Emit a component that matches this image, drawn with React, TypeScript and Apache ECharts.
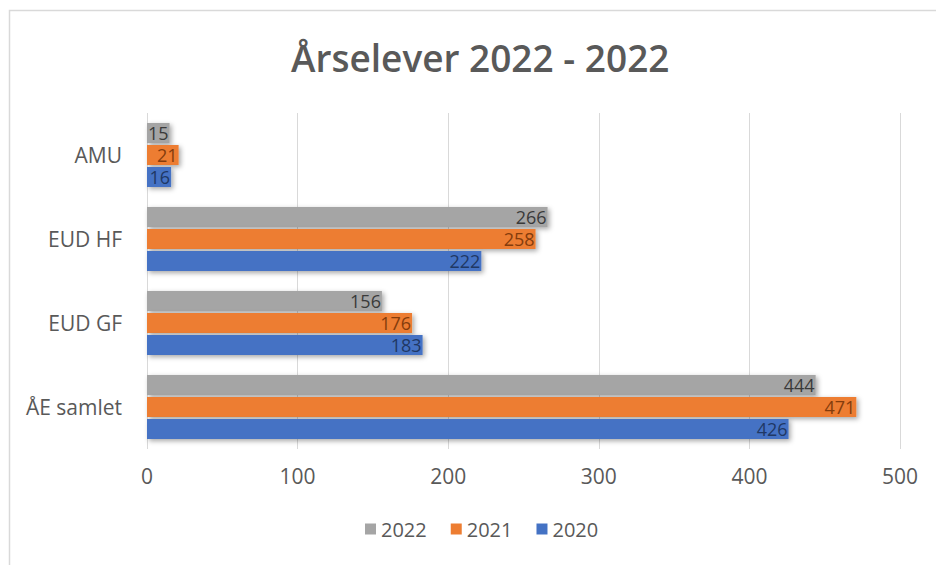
import React, { useEffect, useRef } from "react";
import * as echarts from "echarts";

const categories = ["ÅE samlet", "EUD GF", "EUD HF", "AMU"];
const values2022 = [444, 156, 266, 15];
const values2021 = [471, 176, 258, 21];
const values2020 = [426, 183, 222, 16];
const xTicks = [0, 100, 200, 300, 400, 500];

const FONT = "'Open Sans', 'Noto Sans', sans-serif";

export default function App() {
  const ref = useRef<HTMLDivElement>(null);
  useEffect(() => {
    if (!ref.current) return;
    const chart = echarts.init(ref.current, undefined, { renderer: "svg" });
    const mk = (name: string, data: number[], color: string, labelColor: string) => ({
      name,
      type: "bar",
      data,
      barWidth: 20,
      barGap: "10%",
      itemStyle: {
        color,
        shadowBlur: 5,
        shadowColor: "rgba(0,0,0,0.35)",
        shadowOffsetX: 2,
        shadowOffsetY: 2,
      },
      label: {
        show: true,
        position: "insideRight",
        distance: 1,
        color: labelColor,
        fontSize: 18,
        lineHeight: 18,
        fontFamily: FONT,
      },
    });
    chart.setOption({
      animation: false,
      backgroundColor: "#ffffff",
      title: {
        text: "Årselever 2022 - 2022",
        left: 286,
        top: 34,
        textStyle: { fontSize: 37, fontWeight: 600, color: "#595959", fontFamily: FONT },
      },
      graphic: [
        {
          type: "rect",
          shape: { x: 9.5, y: 10.5, width: 1000, height: 1000 },
          style: { fill: "none", stroke: "#d9d9d9", lineWidth: 1.5 },
          silent: true,
        },
      ],
      legend: {
        data: ["2022", "2021", "2020"],
        bottom: 21,
        left: 360,
        itemWidth: 11,
        itemHeight: 11,
        itemGap: 24,
        icon: "rect",
        textStyle: { fontSize: 20, color: "#595959", fontFamily: FONT },
      },
      grid: { left: 147, right: 36, top: 113, bottom: 116 },
      xAxis: {
        type: "value",
        min: xTicks[0],
        max: xTicks[xTicks.length - 1],
        interval: 100,
        axisLine: { show: false },
        axisTick: { show: false },
        splitLine: { lineStyle: { color: "#d9d9d9", width: 1 } },
        axisLabel: { fontSize: 21, color: "#595959", fontFamily: FONT, margin: 16 },
      },
      yAxis: {
        type: "category",
        data: categories,
        axisLine: { show: false },
        axisTick: { show: false },
        axisLabel: { fontSize: 21, color: "#595959", fontFamily: FONT, margin: 25 },
      },
      series: [
        mk("2022", values2022, "#a5a5a5", "#3a3a3a"),
        mk("2021", values2021, "#ed7d31", "#843c0c"),
        mk("2020", values2020, "#4472c4", "#203864"),
      ],
    });
    return () => chart.dispose();
  }, []);
  return (
    <div
      ref={ref}
      style={{ position: "absolute", left: 0, top: 0, width: 936, height: 565 }}
    />
  );
}
